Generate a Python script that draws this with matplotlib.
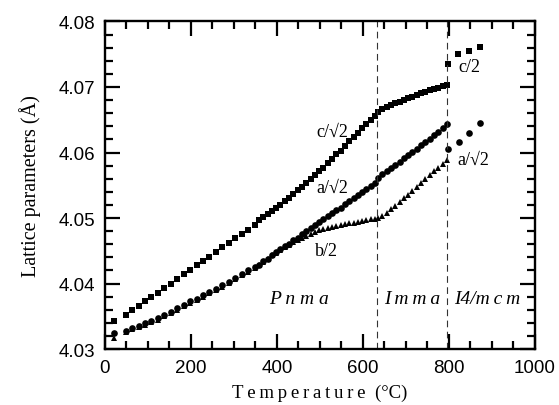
import matplotlib
matplotlib.use("Agg")
import matplotlib.pyplot as plt
from matplotlib.ticker import MultipleLocator

# ---------------- data ----------------
T_rt = [20]
c_rt = [4.0343]
a_rt = [4.0324]
b_rt = [4.0317]

T_low = [48, 63, 78, 93, 108, 123, 138, 153, 168, 183, 198, 213, 228,
         243, 258, 273, 288, 303, 318, 333, 348]
c_low = [4.0352, 4.0359, 4.0366, 4.0373, 4.0380, 4.0386, 4.0393, 4.0400,
         4.0407, 4.0414, 4.0421, 4.0428, 4.0435, 4.0441, 4.0448, 4.0455,
         4.0462, 4.0469, 4.0475, 4.0482, 4.0489]
a_low = [4.0328, 4.0332, 4.0335, 4.0339, 4.0343, 4.0347, 4.0352, 4.0357,
         4.0362, 4.0367, 4.0373, 4.0377, 4.0382, 4.0387, 4.0392, 4.0397,
         4.0403, 4.0409, 4.0415, 4.0420, 4.0425]
b_low = [4.0326, 4.0330, 4.0333, 4.0337, 4.0341, 4.0345, 4.0350, 4.0355,
         4.0360, 4.0365, 4.0371, 4.0375, 4.0380, 4.0385, 4.0390, 4.0395,
         4.0401, 4.0407, 4.0413, 4.0418, 4.0423]

T_high = [358, 368, 378, 388, 398, 408, 418, 428, 438, 448, 458, 468, 478,
          488, 498, 508, 518, 528, 538, 548, 558, 568, 578, 588, 598, 608,
          618, 628]
c_high = [4.0497, 4.0501, 4.0506, 4.0510, 4.0515, 4.0520, 4.0526, 4.0531,
          4.0537, 4.0543, 4.0548, 4.0554, 4.0560, 4.0565, 4.0571, 4.0577,
          4.0584, 4.0590, 4.0597, 4.0603, 4.0610, 4.0617, 4.0623, 4.0630,
          4.0637, 4.0643, 4.0650, 4.0656]
a_high = [4.0429, 4.0434, 4.0438, 4.0443, 4.0448, 4.0452, 4.0457, 4.0461,
          4.0466, 4.0470, 4.0475, 4.0480, 4.0484, 4.0489, 4.0494, 4.0498,
          4.0503, 4.0507, 4.0512, 4.0516, 4.0521, 4.0526, 4.0530, 4.0535,
          4.0539, 4.0544, 4.0549, 4.0554]
b_high = [4.0428, 4.0433, 4.0438, 4.0443, 4.0447, 4.0451, 4.0455, 4.0459,
          4.0463, 4.0466, 4.0469, 4.0472, 4.0475, 4.0478, 4.0481, 4.0483,
          4.0485, 4.0487, 4.0488, 4.0489, 4.0491, 4.0492, 4.0493, 4.0494,
          4.0496, 4.0497, 4.0498, 4.0499]

T_imma = [635, 645, 655, 665, 675, 685, 695, 705, 715, 725, 735, 745, 755,
          765, 775, 785, 795]
c_imma = [4.0662, 4.0666, 4.0669, 4.0672, 4.0675, 4.0677, 4.0680, 4.0683,
          4.0685, 4.0688, 4.0691, 4.0693, 4.0695, 4.0697, 4.0699, 4.0701,
          4.0703]
a_imma = [4.0561, 4.0567, 4.0572, 4.0577, 4.0581, 4.0586, 4.0591, 4.0596,
          4.0601, 4.0606, 4.0611, 4.0616, 4.0621, 4.0626, 4.0632, 4.0638,
          4.0644]
b_imma = [4.0500, 4.0503, 4.0508, 4.0513, 4.0518, 4.0524, 4.0530, 4.0535,
          4.0541, 4.0547, 4.0553, 4.0559, 4.0565, 4.0571, 4.0577, 4.0583,
          4.0589]

T_tet_c = [798, 822, 847, 872]
c_tet = [4.0735, 4.0751, 4.0755, 4.0761]
T_tet_a = [798, 824, 847, 872]
a_tet = [4.0606, 4.0616, 4.0630, 4.0645]

transitions = [633, 795]

# ---------------- figure ----------------
serif = ['Liberation Serif', 'DejaVu Serif']
sans = ['Liberation Sans', 'DejaVu Sans']

fig = plt.figure(figsize=(5.59, 4.06), dpi=100)
ax = fig.add_axes([0.1878, 0.1379, 0.957 - 0.1878, 0.9446 - 0.1379])

sq = dict(marker='s', ms=4.4, color='black', ls='none', mew=0)
ci = dict(marker='o', ms=4.8, color='black', ls='none', mew=0)
tr = dict(marker='^', ms=4.8, color='black', ls='none', mew=0)

for T, b in [(T_rt, b_rt), (T_low, b_low), (T_high, b_high), (T_imma, b_imma)]:
    ax.plot(T, b, **tr)
for T, a in [(T_rt, a_rt), (T_low, a_low), (T_high, a_high), (T_imma, a_imma), (T_tet_a, a_tet)]:
    ax.plot(T, a, **ci)
for T, c in [(T_rt, c_rt), (T_low, c_low), (T_high, c_high), (T_imma, c_imma), (T_tet_c, c_tet)]:
    ax.plot(T, c, **sq)

for t in transitions:
    ax.axvline(t, color='#333333', lw=0.8, ls=(0, (6, 4)))

ax.set_xlim(0, 1000)
ax.set_ylim(4.03, 4.08)
ax.xaxis.set_major_locator(MultipleLocator(200))
ax.xaxis.set_minor_locator(MultipleLocator(50))
ax.yaxis.set_major_locator(MultipleLocator(0.01))
ax.yaxis.set_minor_locator(MultipleLocator(0.002))
ax.yaxis.set_major_formatter(matplotlib.ticker.FormatStrFormatter('%.2f'))

ax.tick_params(which='both', direction='in', top=True, right=True, width=1.6)
ax.tick_params(which='major', length=10.5, pad=7)
ax.tick_params(which='minor', length=6)
for lab in ax.get_xticklabels() + ax.get_yticklabels():
    lab.set_family(sans)
    lab.set_fontsize(13.5)
for s in ax.spines.values():
    s.set_linewidth(1.7)

ts = '\u2009'
ax.set_xlabel(ts.join('Temperature') + '  (\u00b0C)', family=serif, fontsize=13.5, labelpad=6)
ax.set_ylabel('Lattice parameters (\u00c5)', family=serif, fontsize=14.5, labelpad=13)

lab_kw = dict(family=serif, fontsize=13, ha='center', va='center')
ax.text(528, 4.0633, 'c/\u221a2', **lab_kw)
ax.text(528, 4.0547, 'a/\u221a2', **lab_kw)
ax.text(516, 4.0450, 'b/2', **lab_kw)
ax.text(848, 4.0731, 'c/2', **lab_kw)
ax.text(857, 4.0590, 'a/\u221a2', **lab_kw)

ph_kw = dict(family=serif, fontsize=14, style='italic', ha='center', va='center')
ax.text(451, 4.0377, ' '.join('Pnma'), **ph_kw)
ax.text(714, 4.0377, ts.join('Imma'), **ph_kw)
ax.text(890, 4.0377, 'I4/' + ts.join('mcm'), **ph_kw)

fig.savefig('out.png', dpi=100)
